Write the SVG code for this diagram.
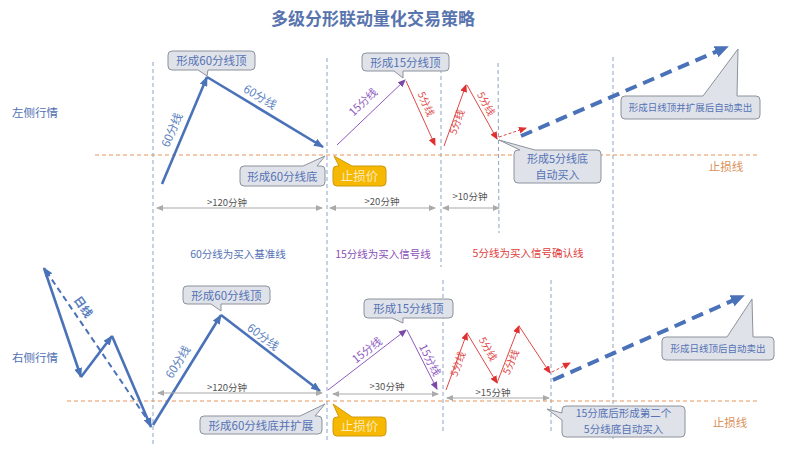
<svg xmlns="http://www.w3.org/2000/svg" width="800" height="453" viewBox="0 0 800 453">
<defs>
<style>
text{font-family:"Noto Sans CJK SC","Liberation Sans",sans-serif}
.title{font-size:17px;font-weight:bold;fill:#5874ae;text-anchor:middle}
.side{font-size:11.5px;fill:#4f70b2}
.stop{font-size:11.5px;fill:#d9925a;text-anchor:middle}
.dim{font-size:9.5px;fill:#555;text-anchor:middle}
.sec{font-size:10.5px;text-anchor:middle}
.ct{font-size:11.5px;fill:#5572b5;text-anchor:middle}
.ct2{font-size:11px;fill:#5572b5;text-anchor:middle}
.ct3{font-size:10.5px;fill:#5572b5;text-anchor:middle}
.cs{font-size:9.5px;fill:#5572b5;text-anchor:middle}
.yt{font-size:12.5px;fill:#fdebc0;text-anchor:middle}
.lb{font-size:11.5px;fill:#5b7fc0;text-anchor:middle}
.lp{font-size:11px;fill:#8e5bbf;text-anchor:middle}
.lr{font-size:10px;fill:#e04848;text-anchor:middle}
.vline{stroke:#8ea3c8;stroke-width:1;stroke-dasharray:4 3;fill:none}
.hline{stroke:#e8935a;stroke-width:1;stroke-dasharray:4 3;fill:none}
.dimline{stroke:#aaaaaa;stroke-width:1.2;fill:none;marker-start:url(#aG);marker-end:url(#aG)}
.blue{stroke:#4a72b8;stroke-width:2.6;fill:none;marker-end:url(#aB)}
.purple{stroke:#8e5bbf;stroke-width:1;fill:none;marker-end:url(#aP)}
.red{stroke:#e04848;stroke-width:1;fill:none;marker-end:url(#aR)}
.reddash{stroke:#e04848;stroke-width:1;stroke-dasharray:3 2;fill:none;marker-end:url(#aR)}
.bigdash{stroke:#4a72b8;stroke-width:4;stroke-dasharray:12 7;fill:none;marker-end:url(#aBB)}
.call{fill:#dfe2e9;stroke:#8c929c;stroke-width:1}
.ycall{fill:#f6b800;stroke:#d09a10;stroke-width:1}
</style>
<marker id="aB" markerUnits="userSpaceOnUse" markerWidth="10" markerHeight="8" refX="9" refY="4" orient="auto"><path d="M0,0 L10,4 L0,8 Z" fill="#4a72b8"/></marker>
<marker id="aBB" markerUnits="userSpaceOnUse" markerWidth="14" markerHeight="12" refX="12" refY="6" orient="auto"><path d="M0,0 L14,6 L0,12 Z" fill="#4a72b8"/></marker>
<marker id="aP" markerUnits="userSpaceOnUse" markerWidth="8" markerHeight="7" refX="7" refY="3.5" orient="auto"><path d="M0,0 L8,3.5 L0,7 Z" fill="#7a4aa8"/></marker>
<marker id="aR" markerUnits="userSpaceOnUse" markerWidth="8" markerHeight="7" refX="7" refY="3.5" orient="auto"><path d="M0,0 L8,3.5 L0,7 Z" fill="#e03030"/></marker>
<marker id="aG" markerUnits="userSpaceOnUse" markerWidth="7" markerHeight="6" refX="6" refY="3" orient="auto-start-reverse"><path d="M0,0 L7,3 L0,6 Z" fill="#aaaaaa"/></marker>
</defs>
<rect width="800" height="453" fill="#ffffff"/>

<text class="title" x="373" y="25">多级分形联动量化交易策略</text>

<g id="guides">
<line class="vline" x1="153" y1="62" x2="153" y2="447"/>
<line class="vline" x1="327" y1="58" x2="327" y2="443"/>
<line class="vline" x1="441" y1="62" x2="441" y2="267"/>
<line class="vline" x1="443" y1="280" x2="443" y2="432"/>
<line class="vline" x1="498" y1="63" x2="499" y2="233"/>
<line class="vline" x1="551" y1="280" x2="551" y2="433"/>
<line class="vline" x1="613" y1="57" x2="613" y2="440"/>
<line class="hline" x1="95" y1="155" x2="757" y2="155"/>
<line class="hline" x1="67" y1="401" x2="757" y2="401"/>
</g>

<g id="labels">
<text class="side" x="12" y="117">左侧行情</text>
<text class="side" x="12" y="362">右侧行情</text>
<text class="stop" x="726" y="171">止损线</text>
<text class="stop" x="730" y="427">止损线</text>
<text class="sec" x="238" y="258" fill="#5572b5">60分线为买入基准线</text>
<text class="sec" x="383" y="258" fill="#8a4fb5">15分线为买入信号线</text>
<text class="sec" x="528" y="257" fill="#e04040">5分线为买入信号确认线</text>
</g>

<g id="connectors">
<line class="blue" x1="162" y1="184" x2="207" y2="77"/>
<line class="blue" x1="207" y1="77" x2="323" y2="147"/>
<line class="purple" x1="337" y1="145" x2="405" y2="80"/>
<line class="red" x1="406" y1="81" x2="435" y2="145"/>
<line class="red" x1="444" y1="146" x2="466" y2="85"/>
<line class="red" x1="467" y1="85" x2="497" y2="139"/>
<line class="reddash" x1="499" y1="137" x2="526" y2="128"/>
<line class="bigdash" x1="521" y1="136" x2="727" y2="47"/>
<line class="dimline" x1="157" y1="208" x2="322" y2="208"/>
<line class="dimline" x1="330" y1="208" x2="435" y2="208"/>
<line class="dimline" x1="443" y1="208" x2="499" y2="208"/>
<line stroke="#4a72b8" stroke-width="2" stroke-dasharray="6 4" fill="none" marker-end="url(#aB)" x1="151" y1="425" x2="44" y2="268"/>
<line class="blue" x1="44" y1="268" x2="81" y2="377"/>
<line class="blue" x1="81" y1="377" x2="112" y2="336"/>
<line class="blue" x1="112" y1="336" x2="151" y2="427"/>
<line class="blue" x1="153" y1="425" x2="221" y2="315"/>
<line class="blue" x1="221" y1="315" x2="320" y2="391"/>
<line class="purple" x1="328" y1="390" x2="406" y2="330"/>
<line class="purple" x1="407" y1="330" x2="437" y2="389"/>
<line class="red" x1="446" y1="390" x2="467" y2="333"/>
<line class="red" x1="467" y1="333" x2="497" y2="383"/>
<line class="red" x1="497" y1="383" x2="519" y2="326"/>
<line class="red" x1="519" y1="326" x2="550" y2="373"/>
<line class="reddash" x1="552" y1="372" x2="570" y2="363"/>
<line class="bigdash" x1="553" y1="380" x2="743" y2="296"/>
<line class="dimline" x1="158" y1="393" x2="322" y2="393"/>
<line class="dimline" x1="333" y1="394" x2="438" y2="394"/>
<line class="dimline" x1="447" y1="398" x2="549" y2="398"/>
</g>

<g id="line-labels">
<text class="lb" transform="translate(172,130) rotate(-67)" dy="4">60分线</text>
<text class="lb" transform="translate(260,97) rotate(31)" dy="4">60分线</text>
<text class="lp" transform="translate(363,102) rotate(-44)" dy="4">15分线</text>
<text class="lr" transform="translate(426,104) rotate(66)" dy="3.5">5分线</text>
<text class="lr" transform="translate(457,122) rotate(-70)" dy="3.5">5分线</text>
<text class="lr" transform="translate(486,104) rotate(61)" dy="3.5">5分线</text>
<text class="dim" x="227" y="206">&gt;120分钟</text>
<text class="dim" x="382" y="205">&gt;20分钟</text>
<text class="dim" x="470" y="200">&gt;10分钟</text>
<text class="lb" font-weight="bold" transform="translate(83,307) rotate(55)" dy="4">日线</text>
<text class="lb" transform="translate(178,362) rotate(-58)" dy="4">60分线</text>
<text class="lb" transform="translate(263,337) rotate(37)" dy="4">60分线</text>
<text class="lp" transform="translate(367,350) rotate(-38)" dy="4">15分线</text>
<text class="lp" transform="translate(430,360) rotate(63)" dy="4">15分线</text>
<text class="lr" transform="translate(458,364) rotate(-70)" dy="3.5">5分线</text>
<text class="lr" transform="translate(488,349) rotate(60)" dy="3.5">5分线</text>
<text class="lr" transform="translate(511,362) rotate(-67)" dy="3.5">5分线</text>
<text class="dim" x="227" y="391">&gt;120分钟</text>
<text class="dim" x="387" y="390">&gt;30分钟</text>
<text class="dim" x="493" y="396">&gt;15分钟</text>
</g>

<g id="c1"><path class="call" d="M172,51 H251 Q255,51 255,55 V66 Q255,70 251,70 H208 L207,76 L198,70 H172 Q168,70 168,66 V55 Q168,51 172,51 Z"/><text class="ct" x="211.5" y="65">形成60分线顶</text></g>
<g id="c2"><path class="call" d="M244,166 H303 L325,156 L317,166 H321 Q325,166 325,170 V182 Q325,186 321,186 H244 Q240,186 240,182 V170 Q240,166 244,166 Z"/><text class="ct" x="282.5" y="180.5">形成60分线底</text></g>
<g id="y1"><path class="ycall" d="M337,166 H339 L334,156 L352,166 H382 Q386,166 386,170 V182 Q386,186 382,186 H337 Q333,186 333,182 V170 Q333,166 337,166 Z"/><text class="yt" x="359.5" y="180.5">止损价</text></g>
<g id="c3"><path class="call" d="M366,53 H445 Q449,53 449,57 V67 Q449,71 445,71 H403 L403,78 L394,71 H366 Q362,71 362,67 V57 Q362,53 366,53 Z"/><text class="ct" x="405.5" y="66.5">形成15分线顶</text></g>
<g id="c4"><path class="call" d="M518,150 H520 L499,140 L535,150 H597 Q601,150 601,154 V179 Q601,183 597,183 H518 Q514,183 514,179 V154 Q514,150 518,150 Z"/><text class="ct2" x="557.5" y="162.5">形成5分线底</text><text class="ct2" x="557.5" y="178.5">自动买入</text></g>
<g id="c5"><path class="call" d="M625,96 H703 L738,49 L737,96 H756 Q760,96 760,100 V115 Q760,119 756,119 H625 Q621,119 621,115 V100 Q621,96 625,96 Z"/><text class="cs" x="690.5" y="111">形成日线顶并扩展后自动卖出</text></g>
<g id="c6"><path class="call" d="M187,286 H266 Q270,286 270,290 V300 Q270,304 266,304 H221 L221,311 L211,304 H187 Q183,304 183,300 V290 Q183,286 187,286 Z"/><text class="ct" x="226.5" y="299.5">形成60分线顶</text></g>
<g id="c7"><path class="call" d="M204,416 H300 L325,404 L315,416 H318 Q322,416 322,420 V430 Q322,434 318,434 H204 Q200,434 200,430 V420 Q200,416 204,416 Z"/><text class="ct" x="261" y="429.5">形成60分线底并扩展</text></g>
<g id="y2"><path class="ycall" d="M337,417 H339 L333,404 L352,417 H382 Q386,417 386,421 V432 Q386,436 382,436 H337 Q333,436 333,432 V421 Q333,417 337,417 Z"/><text class="yt" x="359.5" y="431">止损价</text></g>
<g id="c8"><path class="call" d="M368,299 H449 Q453,299 453,303 V314 Q453,318 449,318 H403 L403,323 L392,318 H368 Q364,318 364,314 V303 Q364,299 368,299 Z"/><text class="ct" x="408.5" y="313">形成15分线顶</text></g>
<g id="c9"><path class="call" d="M666,337 H727 L752,299 L753,337 H770 Q774,337 774,341 V356 Q774,360 770,360 H666 Q662,360 662,356 V341 Q662,337 666,337 Z"/><text class="cs" x="718" y="352">形成日线顶后自动卖出</text></g>
<g id="c10"><path class="call" d="M566,406 H681 Q685,406 685,410 V433 Q685,437 681,437 H566 Q562,437 562,433 V420 L547,409 L562,413 V410 Q562,406 566,406 Z"/><text class="ct3" x="623.5" y="417">15分底后形成第二个</text><text class="ct3" x="623.5" y="432.5">5分线底自动买入</text></g>
</svg>
